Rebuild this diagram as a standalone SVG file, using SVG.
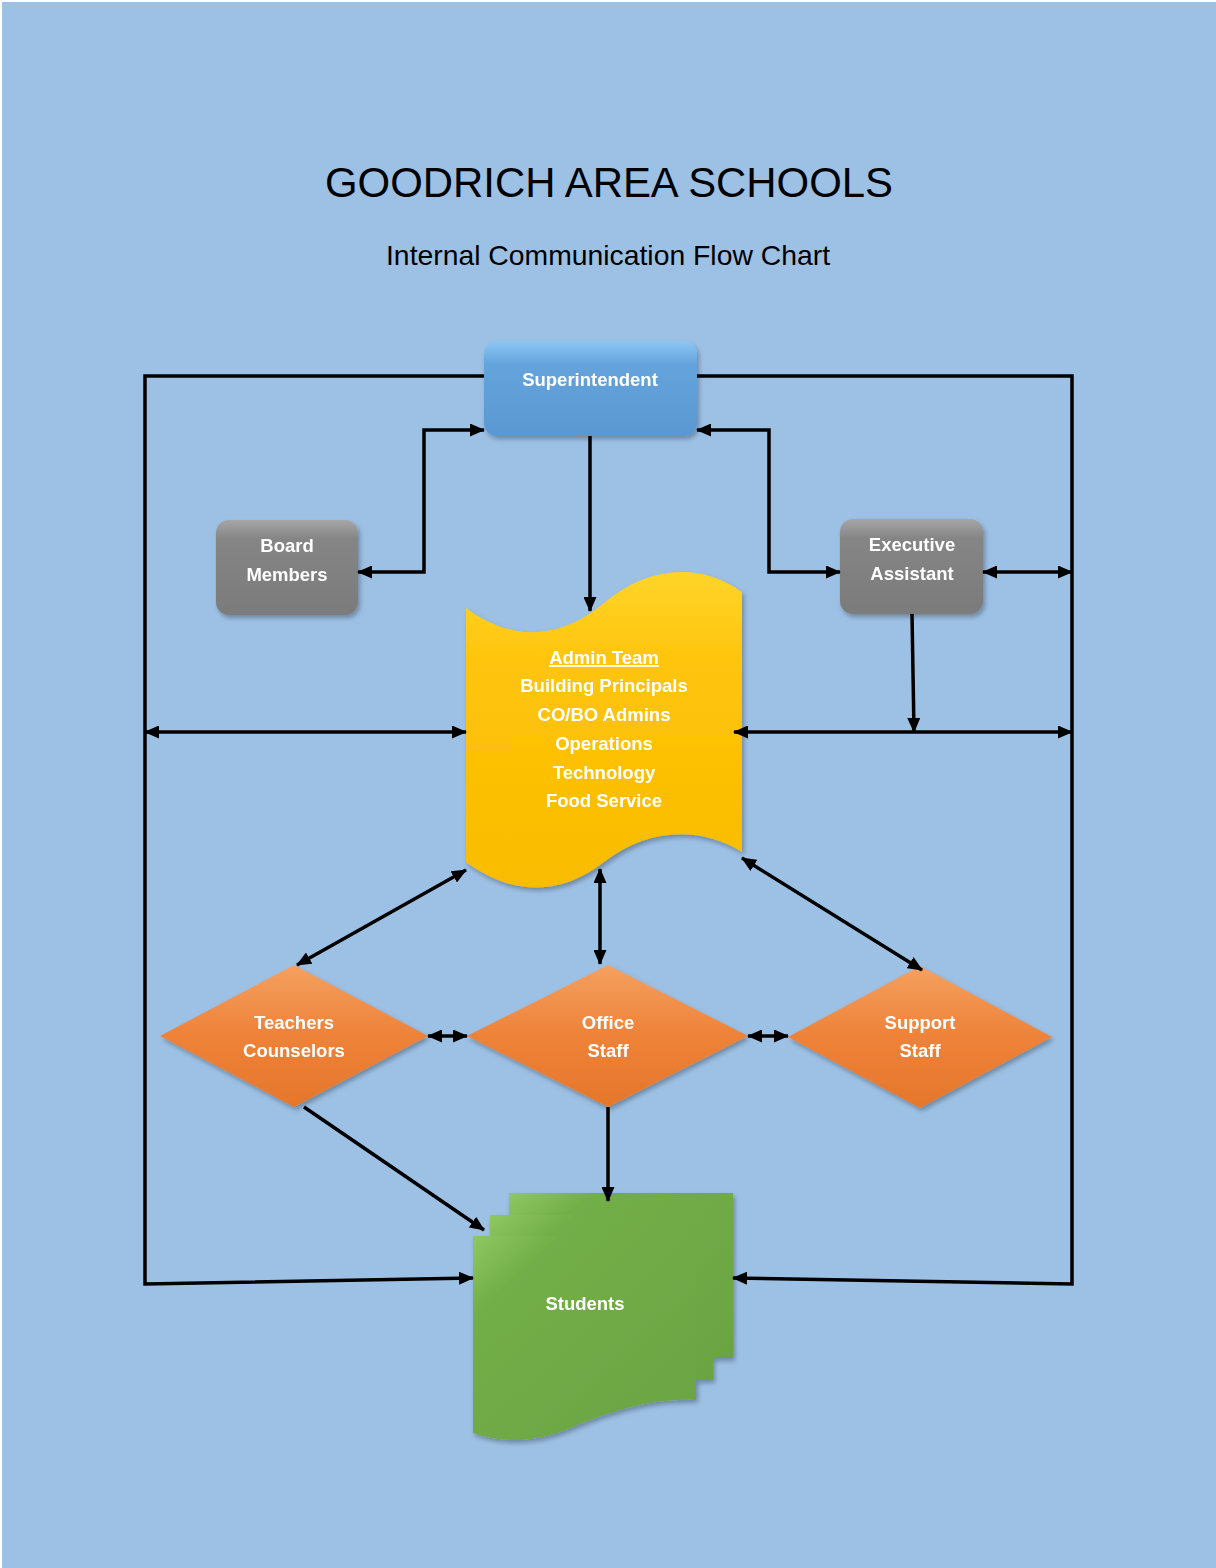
<svg xmlns="http://www.w3.org/2000/svg" width="1216" height="1568" viewBox="0 0 1216 1568">
<style>
.bg{fill:#9DC1E5}
.title{font-family:"Liberation Sans",Arial,sans-serif;fill:#000}
.lbl{font-family:"Liberation Sans",Arial,sans-serif;font-weight:bold;font-size:18.5px;fill:#fff;text-anchor:middle}
.con{fill:none;stroke:#000;stroke-width:3.5;stroke-linejoin:miter}
</style>
<defs>
<marker id="ah" markerWidth="15" markerHeight="13" refX="14" refY="6.5" orient="auto-start-reverse" markerUnits="userSpaceOnUse">
<path d="M0,0 L15,6.5 L0,13 Z" fill="#000"/>
</marker>
<filter id="sh" x="-10%" y="-10%" width="130%" height="130%">
<feDropShadow dx="2" dy="3" stdDeviation="2.5" flood-color="#000" flood-opacity="0.3"/>
</filter>
<linearGradient id="gBlue" x1="0" y1="0" x2="0" y2="1">
<stop offset="0" stop-color="#8CC7F5"/>
<stop offset="0.25" stop-color="#64A3DC"/>
<stop offset="1" stop-color="#5A98D2"/>
</linearGradient>
<linearGradient id="gGray" x1="0" y1="0" x2="0" y2="1">
<stop offset="0" stop-color="#A6A6A6"/>
<stop offset="0.2" stop-color="#858585"/>
<stop offset="1" stop-color="#7B7B7B"/>
</linearGradient>
<linearGradient id="gYel" x1="0" y1="0" x2="0" y2="1">
<stop offset="0" stop-color="#FFD42A"/>
<stop offset="0.3" stop-color="#FFC40A"/>
<stop offset="1" stop-color="#F9BC00"/>
</linearGradient>
<linearGradient id="gOr" x1="0" y1="0" x2="0" y2="1">
<stop offset="0" stop-color="#F5A060"/>
<stop offset="0.5" stop-color="#EE8238"/>
<stop offset="1" stop-color="#E5772B"/>
</linearGradient>
<linearGradient id="gGr" x1="0" y1="0" x2="1" y2="1">
<stop offset="0" stop-color="#8DC862"/>
<stop offset="0.2" stop-color="#72AE48"/>
<stop offset="1" stop-color="#6BA443"/>
</linearGradient>
</defs>

<rect x="0" y="0" width="1216" height="1568" fill="#fff"/>
<rect class="bg" x="2" y="2" width="1214" height="1566"/>

<text class="title" x="609" y="197" font-size="43" text-anchor="middle" textLength="568" lengthAdjust="spacingAndGlyphs">GOODRICH AREA SCHOOLS</text>
<text class="title" x="608" y="265" font-size="28" text-anchor="middle" textLength="444" lengthAdjust="spacingAndGlyphs">Internal Communication Flow Chart</text>

<g id="superintendent" filter="url(#sh)">
<rect x="484" y="341" width="213" height="95" rx="13" fill="url(#gBlue)"/>
<text class="lbl" x="590" y="386">Superintendent</text>
</g>

<g id="board-members" filter="url(#sh)">
<rect x="216" y="520" width="142" height="95" rx="13" fill="url(#gGray)"/>
<text class="lbl" x="287" y="552">Board</text>
<text class="lbl" x="287" y="581">Members</text>
</g>

<g id="executive-assistant" filter="url(#sh)">
<rect x="840" y="519" width="143" height="95" rx="13" fill="url(#gGray)"/>
<text class="lbl" x="912" y="551">Executive</text>
<text class="lbl" x="912" y="580">Assistant</text>
</g>

<g id="admin-team" filter="url(#sh)">
<path d="M466,608 C512,642 560,640 604,603 C648,566 700,562 742,592 L742,852 C700,826 648,828 604,862 C560,896 512,896 466,862 Z" fill="url(#gYel)"/>
<text class="lbl" x="604" y="664" text-decoration="underline">Admin Team</text>
<text class="lbl" x="604" y="692">Building Principals</text>
<text class="lbl" x="604" y="721">CO/BO Admins</text>
<text class="lbl" x="604" y="750">Operations</text>
<text class="lbl" x="604" y="779">Technology</text>
<text class="lbl" x="604" y="807">Food Service</text>
</g>

<g id="teachers-counselors" filter="url(#sh)">
<polygon points="294,965 428,1036 294,1107 160,1036" fill="url(#gOr)"/>
<text class="lbl" x="294" y="1029">Teachers</text>
<text class="lbl" x="294" y="1057">Counselors</text>
</g>

<g id="office-staff" filter="url(#sh)">
<polygon points="608,965 748,1036 608,1107 467,1036" fill="url(#gOr)"/>
<text class="lbl" x="608" y="1029">Office</text>
<text class="lbl" x="608" y="1057">Staff</text>
</g>

<g id="support-staff" filter="url(#sh)">
<polygon points="920,966 1052,1037 920,1108 788,1037" fill="url(#gOr)"/>
<text class="lbl" x="920" y="1029">Support</text>
<text class="lbl" x="920" y="1057">Staff</text>
</g>

<g id="students" filter="url(#sh)">
<rect x="509" y="1193" width="224" height="165" fill="url(#gGr)"/>
<rect x="490" y="1215" width="223" height="165" fill="url(#gGr)"/>
<path d="M473,1236 H696 V1400 C650,1398 610,1412 575,1426 C540,1442 505,1444 473,1433 Z" fill="url(#gGr)"/>
<text class="lbl" x="585" y="1310">Students</text>
</g>

<g id="connectors">
<polyline class="con" points="484,376 145,376 145,1284 473,1278" marker-end="url(#ah)"/>
<polyline class="con" points="697,376 1072,376 1072,1284 733,1278" marker-end="url(#ah)"/>
<polyline class="con" points="484,430 424,430 424,572 358,572" marker-start="url(#ah)" marker-end="url(#ah)"/>
<polyline class="con" points="697,430 769,430 769,572 840,572" marker-start="url(#ah)" marker-end="url(#ah)"/>
<line class="con" x1="983" y1="572" x2="1072" y2="572" marker-start="url(#ah)" marker-end="url(#ah)"/>
<line class="con" x1="590" y1="436" x2="590" y2="611" marker-end="url(#ah)"/>
<line class="con" x1="912" y1="614" x2="914" y2="732" marker-end="url(#ah)"/>
<line class="con" x1="145" y1="732" x2="466" y2="732" marker-start="url(#ah)" marker-end="url(#ah)"/>
<line class="con" x1="734" y1="732" x2="1072" y2="732" marker-start="url(#ah)" marker-end="url(#ah)"/>
<line class="con" x1="466" y1="870" x2="297" y2="965" marker-start="url(#ah)" marker-end="url(#ah)"/>
<line class="con" x1="600" y1="869" x2="600" y2="964" marker-start="url(#ah)" marker-end="url(#ah)"/>
<line class="con" x1="742" y1="858" x2="922" y2="970" marker-start="url(#ah)" marker-end="url(#ah)"/>
<line class="con" x1="428" y1="1036" x2="467" y2="1036" marker-start="url(#ah)" marker-end="url(#ah)"/>
<line class="con" x1="748" y1="1036" x2="788" y2="1036" marker-start="url(#ah)" marker-end="url(#ah)"/>
<line class="con" x1="304" y1="1107" x2="484" y2="1230" marker-end="url(#ah)"/>
<line class="con" x1="608" y1="1107" x2="608" y2="1201" marker-end="url(#ah)"/>
</g>
</svg>
